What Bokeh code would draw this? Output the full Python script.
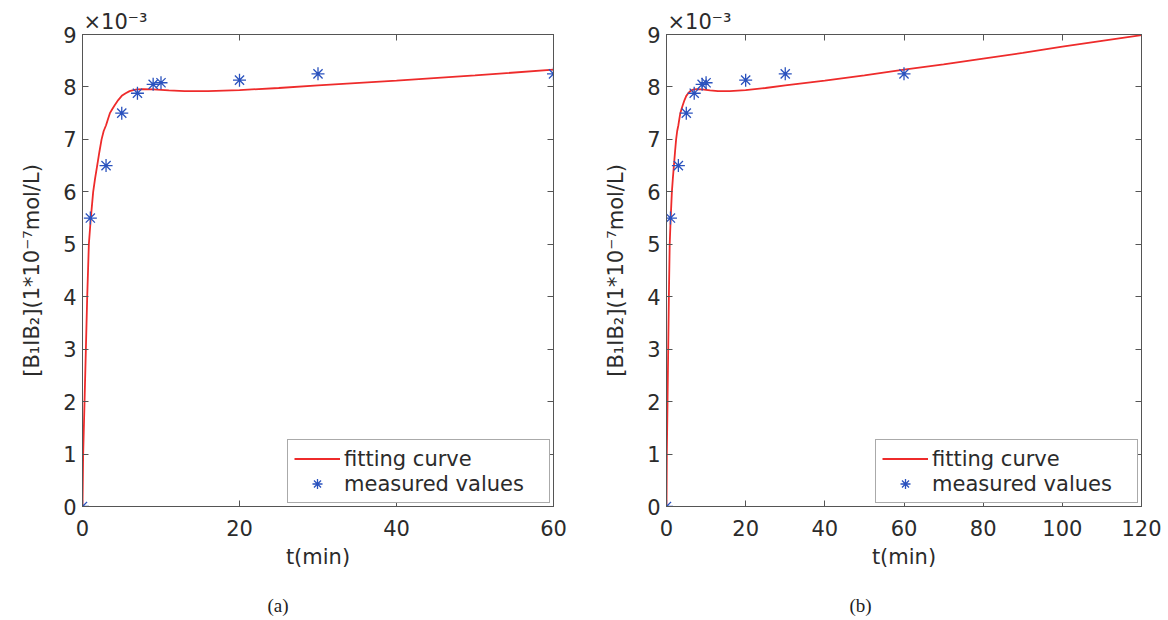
from bokeh.plotting import figure
from bokeh.models import Range1d, FixedTicker, LinearAxis, Title
from bokeh.layouts import row
from bokeh.embed import file_html
from bokeh.resources import INLINE

# ---- data (concentration values in units of 1e-3) ----
t_measured = [0, 1, 3, 5, 7, 9, 10, 20, 30, 60]
c_measured = [0.0, 5.5, 6.5, 7.5, 7.88, 8.05, 8.08, 8.13, 8.25, 8.25]

t_fit = [0, 0.085, 0.26, 0.43, 0.6, 0.81, 1.06, 1.36, 1.6, 1.87, 2.15, 2.43,
         2.7, 3.0, 3.25, 3.49, 3.8, 4.1, 4.55, 5.0, 5.5, 6.0, 6.6, 7.0, 7.7,
         9.0, 11.0, 13.0, 16.0, 20.0, 25.0, 30.0, 40.0, 50.0, 60.0, 70.0,
         80.0, 90.0, 100.0, 110.0, 120.0]
c_fit = [0.0, 1.0, 2.0, 3.0, 4.0, 5.0, 5.5, 6.0, 6.25, 6.5, 6.76, 7.0,
         7.16, 7.27, 7.39, 7.5, 7.58, 7.65, 7.75, 7.83, 7.88, 7.92, 7.945, 7.955, 7.96,
         7.955, 7.935, 7.92, 7.92, 7.94, 7.98, 8.03, 8.12, 8.22, 8.33, 8.43,
         8.54, 8.65, 8.77, 8.88, 8.99]

x_ticks_a = [0, 20, 40, 60]
x_ticks_b = [0, 20, 40, 60, 80, 100, 120]
y_ticks = [0, 1, 2, 3, 4, 5, 6, 7, 8, 9]

x_label = "t(min)"
y_label = "[B\u2081IB\u2082](1*10\u207b\u2077mol/L)"
exponent_label = "\u00d710\u207b\u00b3"
legend_fit = "fitting curve"
legend_meas = "measured values"

FONT = "DejaVu Sans"
TXT = "#2b2b2b"
AX = "#555555"
RED = "#ee2b2b"
BLUE = "#2a52be"


def style_axis(ax, ticks, show_labels=True):
    ax.ticker = FixedTicker(ticks=ticks)
    ax.axis_line_color = AX
    ax.axis_line_width = 1
    ax.major_tick_line_color = AX
    ax.major_tick_in = 6
    ax.major_tick_out = 0
    ax.minor_tick_line_color = None
    ax.major_label_text_font = FONT
    ax.major_label_text_font_size = "21px"
    ax.major_label_text_color = TXT
    ax.axis_label_text_font = FONT
    ax.axis_label_text_font_size = "21px"
    ax.axis_label_text_font_style = "normal"
    ax.axis_label_text_color = TXT
    if not show_labels:
        ax.major_label_overrides = {t: "" for t in ticks}
        ax.major_label_standoff = 0


def panel(xmax, xticks, width, bl, br, bt, bb, caption, cap_offset):
    p = figure(width=width, height=620, x_range=Range1d(0, xmax), y_range=Range1d(0, 9),
               output_backend="svg", toolbar_location=None, title=None,
               min_border_left=bl, min_border_right=br, min_border_top=bt, min_border_bottom=bb)
    p.grid.visible = False
    p.outline_line_color = AX
    p.background_fill_color = "white"

    p.line(t_fit, c_fit, line_color=RED, line_width=1.8, legend_label=legend_fit)
    p.scatter(t_measured, c_measured, marker="asterisk", size=13, line_color=BLUE,
              line_width=1.3, legend_label=legend_meas)

    style_axis(p.xaxis[0], xticks)
    style_axis(p.yaxis[0], y_ticks)
    p.xaxis[0].axis_label = x_label
    p.xaxis[0].major_label_standoff = 13
    p.xaxis[0].axis_label_standoff = 6
    p.yaxis[0].axis_label = y_label
    p.yaxis[0].major_label_standoff = 6
    p.yaxis[0].axis_label_standoff = 16

    top = LinearAxis()
    style_axis(top, xticks, show_labels=False)
    p.add_layout(top, "above")
    right = LinearAxis()
    style_axis(right, y_ticks, show_labels=False)
    p.add_layout(right, "right")

    expo = Title(text=exponent_label, align="left", offset=1, standoff=2,
                 text_font=FONT, text_font_size="21px", text_font_style="normal",
                 text_color=TXT)
    p.add_layout(expo, "above")

    cap = Title(text="\n" + caption, align="left", offset=cap_offset, standoff=0,
                text_font="Liberation Serif", text_font_size="19px",
                text_font_style="normal", text_color="#222222")
    p.add_layout(cap, "below")

    lg = p.legend[0]
    lg.location = "bottom_right"
    lg.margin = 3
    lg.padding = 6
    lg.spacing = 0
    lg.label_text_font = FONT
    lg.label_text_font_size = "21px"
    lg.label_text_color = TXT
    lg.label_height = 25
    lg.glyph_height = 25
    lg.glyph_width = 46
    lg.label_width = 199
    lg.label_standoff = 4
    lg.border_line_color = AX
    lg.border_line_width = 1
    lg.background_fill_alpha = 1
    return p


pa = panel(60, x_ticks_a, 590, 82, 37, 34, 114, "(a)", 185)
pb = panel(120, x_ticks_b, 578, 76, 27, 32, 111, "(b)", 183)

layout = row(pa, pb)
open("out.html", "w").write(file_html(layout, INLINE))
